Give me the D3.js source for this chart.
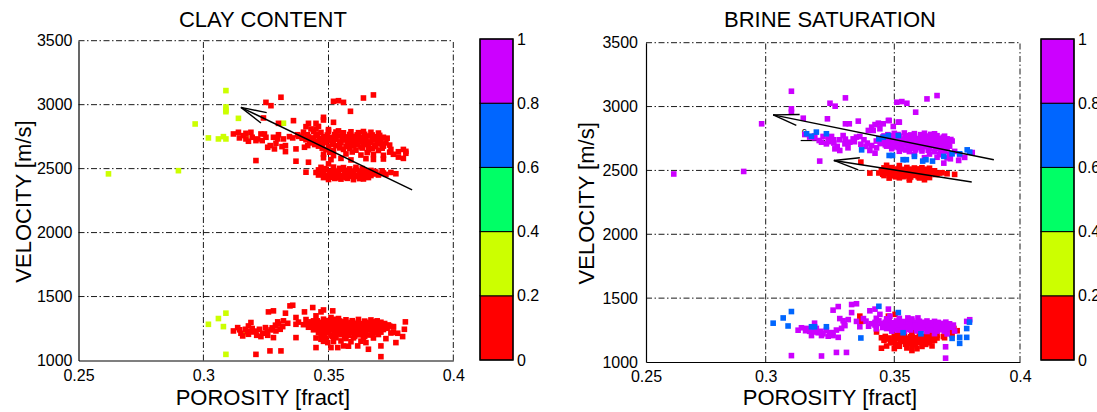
<!DOCTYPE html>
<html><head><meta charset="utf-8">
<script src="https://cdn.jsdelivr.net/npm/d3@7"></script>
<style>
body{margin:0;background:#fff;overflow:hidden}
text{font-family:"Liberation Sans",Arial,Helvetica,sans-serif;fill:#000}
</style>
</head><body>
<svg id="chart" width="1097" height="412"></svg>
<script>
// ---------------- DATA ----------------
const xTicks = [0.25, 0.3, 0.35, 0.4];
const yTicks = [1000, 1500, 2000, 2500, 3000, 3500];
const cbTicks = [0, 0.2, 0.4, 0.6, 0.8, 1];
const cbColors = ["#ff0000", "#ccff00", "#00ff66", "#0066ff", "#cc00ff"];
const titles = ["CLAY CONTENT", "BRINE SATURATION"];
const xLabel = "POROSITY [fract]";
const yLabel = "VELOCITY [m/s]";

// Left panel: [porosity, velocity, clay content]
const clayYellow = [
 [0.262,2459,0.3],[0.290,2484,0.3],[0.2967,2849,0.3],[0.309,3110,0.3],[0.309,2982,0.3],[0.309,2958,0.3],
 [0.309,2945,0.3],[0.314,2893,0.3],[0.302,2740,0.3],[0.306,2732,0.3],[0.308,2750,0.3],[0.309,2732,0.3],
 [0.332,2855,0.3],[0.317,2750,0.3],
 [0.302,1283,0.3],[0.306,1328,0.3],[0.309,1370,0.3],[0.308,1265,0.3],[0.309,1048,0.3],[0.317,1210,0.3]
];
const clayRedUpper = [
 [0.325,3018,0.1],[0.327,2992,0.1],[0.331,3058,0.1],[0.352,3026,0.1],[0.354,3031,0.1],[0.356,3018,0.1],
 [0.364,3052,0.1],[0.368,3076,0.1],[0.3588,2948,0.1],[0.324,2896,0.1],[0.336,2875,0.1],[0.330,2854,0.1],
 [0.348,2880,0.1],[0.348,2901,0.1],[0.352,2862,0.1],[0.341,2828,0.1],[0.342,2854,0.1],[0.345,2854,0.1],[0.345,2810,0.1],
 [0.312,2771,0.1],[0.314,2784,0.1],[0.316,2758,0.1],[0.317,2732,0.1],[0.319,2784,0.1],[0.3195,2745,0.1],
 [0.321,2719,0.1],[0.323,2771,0.1],[0.3235,2719,0.1],[0.325,2745,0.1],[0.3267,2680,0.1],[0.328,2745,0.1],
 [0.329,2698,0.1],[0.330,2765,0.1],[0.3314,2672,0.1],[0.332,2732,0.1],[0.3328,2680,0.1],[0.3328,2633,0.1],
 [0.3284,2654,0.1],[0.3257,2667,0.1],[0.3217,2732,0.1],[0.318,2714,0.1],[0.3144,2740,0.1],[0.317,2776,0.1],
 [0.3244,2771,0.1],[0.3297,2732,0.1],[0.3344,2750,0.1],[0.3357,2740,0.1],[0.3377,2765,0.1],[0.3394,2750,0.1],
 [0.337,2654,0.1],[0.337,2558,0.1],[0.321,2563,0.1],[0.3404,2667,0.1],[0.3417,2680,0.1],
 [0.340,2785,0.1],[0.344,2790,0.1],[0.347,2783,0.1],[0.350,2792,0.1],[0.353,2786,0.1],[0.356,2780,0.1],
 [0.359,2788,0.1],[0.362,2781,0.1],[0.364,2790,0.1],[0.367,2784,0.1],[0.370,2778,0.1],
 [0.343,2810,0.1],[0.346,2830,0.1],[0.350,2805,0.1],[0.354,2795,0.1],
 [0.338,2752,0.1],[0.342,2748,0.1],[0.345,2757,0.1],[0.348,2750,0.1],[0.351,2745,0.1],[0.354,2755,0.1],
 [0.357,2748,0.1],[0.360,2752,0.1],[0.363,2746,0.1],[0.366,2755,0.1],[0.369,2749,0.1],[0.372,2745,0.1],
 [0.341,2726,0.1],[0.344,2720,0.1],[0.347,2728,0.1],[0.350,2722,0.1],[0.353,2730,0.1],[0.356,2724,0.1],
 [0.359,2719,0.1],[0.362,2727,0.1],[0.365,2721,0.1],[0.368,2729,0.1],[0.371,2723,0.1],
 [0.343,2701,0.1],[0.346,2696,0.1],[0.349,2704,0.1],[0.352,2698,0.1],[0.355,2705,0.1],[0.358,2697,0.1],
 [0.361,2702,0.1],[0.364,2696,0.1],[0.367,2703,0.1],[0.370,2698,0.1],[0.373,2701,0.1],
 [0.346,2676,0.1],[0.350,2671,0.1],[0.353,2679,0.1],[0.357,2673,0.1],[0.360,2677,0.1],[0.363,2670,0.1],
 [0.366,2678,0.1],[0.369,2672,0.1],[0.372,2676,0.1],
 [0.349,2648,0.1],[0.352,2641,0.1],[0.356,2650,0.1],[0.361,2644,0.1],[0.366,2648,0.1],[0.370,2642,0.1],
 [0.375,2650,0.1],[0.380,2650,0.1],[0.381,2635,0.1],
 [0.348,2612,0.1],[0.352,2602,0.1],[0.357,2615,0.1],[0.363,2606,0.1],[0.368,2611,0.1],[0.372,2604,0.1],
 [0.376,2612,0.1],[0.381,2620,0.1],
 [0.348,2585,0.1],[0.351,2570,0.1],[0.355,2580,0.1],[0.359,2568,0.1],[0.365,2578,0.1],[0.368,2572,0.1],
 [0.372,2575,0.1],[0.378,2590,0.1],[0.380,2580,0.1],
 [0.350,2537,0.1],[0.341,2472,0.1],[0.342,2550,0.1],
 [0.347,2510,0.1],[0.352,2512,0.1],[0.356,2508,0.1],[0.361,2510,0.1],
 [0.346,2490,0.1],[0.349,2492,0.1],[0.352,2488,0.1],[0.355,2493,0.1],[0.358,2487,0.1],[0.361,2491,0.1],
 [0.364,2489,0.1],[0.367,2486,0.1],
 [0.345,2470,0.1],[0.348,2468,0.1],[0.351,2472,0.1],[0.354,2467,0.1],[0.357,2471,0.1],[0.360,2466,0.1],
 [0.363,2470,0.1],[0.366,2468,0.1],[0.369,2472,0.1],[0.372,2466,0.1],[0.375,2470,0.1],
 [0.346,2450,0.1],[0.349,2447,0.1],[0.352,2452,0.1],[0.355,2446,0.1],[0.358,2450,0.1],[0.361,2448,0.1],
 [0.364,2452,0.1],[0.367,2446,0.1],[0.370,2450,0.1],[0.373,2455,0.1],[0.377,2460,0.1],
 [0.348,2430,0.1],[0.351,2433,0.1],[0.354,2428,0.1],[0.357,2432,0.1],[0.360,2429,0.1],[0.363,2434,0.1],[0.366,2430,0.1],
 [0.350,2415,0.1],[0.355,2418,0.1],[0.360,2414,0.1],[0.364,2419,0.1]
];
const clayRedUpperFill = [
 [0.3415,2765,0.1],[0.3455,2768,0.1],[0.3495,2763,0.1],[0.3525,2766,0.1],[0.3555,2762,0.1],[0.3585,2767,0.1],
 [0.3615,2764,0.1],[0.3645,2768,0.1],[0.3675,2763,0.1],[0.3705,2760,0.1],
 [0.3395,2738,0.1],[0.3435,2740,0.1],[0.3465,2736,0.1],[0.3495,2739,0.1],[0.3525,2735,0.1],[0.3555,2740,0.1],
 [0.3585,2737,0.1],[0.3615,2741,0.1],[0.3645,2736,0.1],[0.3675,2739,0.1],[0.3705,2735,0.1],[0.3735,2738,0.1],
 [0.3425,2712,0.1],[0.3455,2714,0.1],[0.3485,2710,0.1],[0.3515,2713,0.1],[0.3545,2709,0.1],[0.3575,2714,0.1],
 [0.3605,2711,0.1],[0.3635,2713,0.1],[0.3665,2709,0.1],[0.3695,2712,0.1],
 [0.3445,2688,0.1],[0.3475,2686,0.1],[0.3515,2689,0.1],[0.3545,2685,0.1],[0.3585,2688,0.1],[0.3615,2686,0.1],
 [0.3655,2689,0.1],[0.3685,2685,0.1],[0.3715,2688,0.1],[0.3745,2684,0.1],
 [0.3475,2660,0.1],[0.3545,2662,0.1],[0.3585,2658,0.1],[0.3635,2661,0.1],[0.3675,2657,0.1],[0.3715,2660,0.1],
 [0.3505,2628,0.1],[0.3595,2630,0.1],[0.3655,2626,0.1],[0.3745,2629,0.1],[0.378,2632,0.1],
 [0.3485,2500,0.1],[0.3545,2502,0.1],[0.3585,2498,0.1],[0.3635,2500,0.1],
 [0.3475,2480,0.1],[0.3505,2479,0.1],[0.3535,2481,0.1],[0.3565,2478,0.1],[0.3595,2481,0.1],[0.3625,2479,0.1],
 [0.3655,2480,0.1],[0.3685,2478,0.1],[0.3715,2481,0.1],
 [0.3475,2460,0.1],[0.3505,2459,0.1],[0.3535,2461,0.1],[0.3565,2458,0.1],[0.3595,2461,0.1],[0.3625,2459,0.1],
 [0.3655,2460,0.1],[0.3685,2458,0.1],[0.3715,2461,0.1],
 [0.3495,2440,0.1],[0.3525,2441,0.1],[0.3555,2438,0.1],[0.3585,2441,0.1],[0.3615,2439,0.1],[0.3645,2440,0.1],
 [0.3525,2423,0.1],[0.3575,2424,0.1],[0.3625,2422,0.1]
];
const clayRedLower = [
 [0.312,1231,0.1],[0.3137,1257,0.1],[0.315,1213,0.1],[0.3168,1244,0.1],[0.318,1270,0.1],[0.319,1297,0.1],
 [0.3197,1223,0.1],[0.3213,1197,0.1],[0.3224,1244,0.1],[0.3237,1213,0.1],[0.3248,1257,0.1],[0.3257,1197,0.1],
 [0.327,1239,0.1],[0.328,1179,0.1],[0.3288,1276,0.1],[0.3297,1302,0.1],[0.3307,1244,0.1],[0.332,1310,0.1],
 [0.328,1388,0.1],[0.326,1380,0.1],[0.3328,1370,0.1],[0.3346,1427,0.1],[0.3357,1432,0.1],[0.337,1336,0.1],
 [0.337,1283,0.1],[0.337,1179,0.1],[0.321,1048,0.1],[0.3266,1075,0.1],[0.331,1075,0.1],[0.3157,1192,0.1],
 [0.318,1205,0.1],[0.323,1187,0.1],[0.329,1231,0.1],[0.3317,1265,0.1],[0.3337,1291,0.1],
 [0.3145,1240,0.1],[0.3175,1225,0.1],[0.321,1230,0.1],[0.3255,1225,0.1],[0.3275,1255,0.1],[0.330,1285,0.1],[0.3195,1250,0.1],
 [0.3404,1380,0.1],[0.3437,1414,0.1],[0.345,1349,0.1],[0.347,1380,0.1],[0.348,1395,0.1],[0.3517,1388,0.1],
 [0.351,1336,0.1],[0.348,1323,0.1],[0.354,1328,0.1],[0.344,1310,0.1],
 [0.341,1320,0.1],[0.352,1322,0.1],[0.357,1318,0.1],[0.362,1321,0.1],[0.367,1317,0.1],
 [0.338,1300,0.1],[0.343,1302,0.1],[0.347,1298,0.1],[0.350,1303,0.1],[0.353,1299,0.1],[0.356,1302,0.1],
 [0.359,1297,0.1],[0.362,1301,0.1],[0.365,1298,0.1],[0.368,1303,0.1],[0.371,1299,0.1],
 [0.340,1280,0.1],[0.344,1278,0.1],[0.347,1283,0.1],[0.350,1277,0.1],[0.353,1281,0.1],[0.356,1279,0.1],
 [0.359,1283,0.1],[0.362,1277,0.1],[0.365,1281,0.1],[0.368,1278,0.1],[0.371,1282,0.1],[0.374,1278,0.1],
 [0.342,1260,0.1],[0.346,1262,0.1],[0.349,1258,0.1],[0.352,1261,0.1],[0.355,1257,0.1],[0.358,1262,0.1],
 [0.361,1259,0.1],[0.364,1263,0.1],[0.367,1258,0.1],[0.370,1261,0.1],[0.373,1257,0.1],[0.376,1262,0.1],
 [0.344,1240,0.1],[0.348,1242,0.1],[0.351,1238,0.1],[0.354,1241,0.1],[0.357,1237,0.1],[0.360,1242,0.1],
 [0.363,1238,0.1],[0.366,1241,0.1],[0.369,1237,0.1],[0.372,1242,0.1],
 [0.346,1220,0.1],[0.350,1218,0.1],[0.353,1222,0.1],[0.356,1217,0.1],[0.359,1221,0.1],[0.362,1219,0.1],
 [0.365,1223,0.1],[0.368,1218,0.1],[0.371,1222,0.1],[0.376,1220,0.1],
 [0.347,1200,0.1],[0.351,1198,0.1],[0.355,1202,0.1],[0.358,1197,0.1],[0.362,1201,0.1],[0.366,1199,0.1],[0.370,1203,0.1],
 [0.345,1176,0.1],[0.349,1173,0.1],[0.353,1178,0.1],[0.357,1172,0.1],[0.360,1177,0.1],[0.364,1174,0.1],[0.368,1176,0.1],
 [0.348,1150,0.1],[0.352,1148,0.1],[0.355,1153,0.1],[0.359,1147,0.1],[0.363,1151,0.1],
 [0.345,1101,0.1],[0.347,1166,0.1],[0.3497,1140,0.1],[0.351,1101,0.1],[0.3537,1101,0.1],[0.356,1114,0.1],
 [0.358,1112,0.1],[0.3617,1114,0.1],[0.365,1140,0.1],[0.366,1088,0.1],[0.371,1114,0.1],[0.371,1030,0.1],
 [0.377,1140,0.1],[0.3797,1187,0.1],[0.3804,1244,0.1],[0.3808,1302,0.1],[0.3777,1213,0.1],[0.375,1215,0.1],
 [0.373,1171,0.1],[0.376,1265,0.1],
 [0.3455,1310,0.1],[0.3495,1312,0.1],[0.3545,1309,0.1],[0.3595,1311,0.1],[0.3645,1308,0.1],[0.3695,1310,0.1],
 [0.3415,1290,0.1],[0.3455,1291,0.1],[0.3485,1288,0.1],[0.3515,1290,0.1],[0.3545,1292,0.1],[0.3575,1289,0.1],
 [0.3605,1291,0.1],[0.3635,1288,0.1],[0.3665,1290,0.1],[0.3695,1292,0.1],[0.3725,1289,0.1],
 [0.3435,1270,0.1],[0.3475,1271,0.1],[0.3505,1268,0.1],[0.3535,1270,0.1],[0.3565,1272,0.1],[0.3595,1269,0.1],
 [0.3625,1271,0.1],[0.3655,1268,0.1],[0.3685,1270,0.1],[0.3715,1272,0.1],[0.3745,1269,0.1],
 [0.3455,1250,0.1],[0.3495,1251,0.1],[0.3525,1248,0.1],[0.3555,1250,0.1],[0.3585,1252,0.1],[0.3615,1249,0.1],
 [0.3645,1251,0.1],[0.3675,1248,0.1],[0.3705,1250,0.1],[0.3735,1252,0.1],
 [0.3475,1230,0.1],[0.3525,1231,0.1],[0.3555,1228,0.1],[0.3585,1230,0.1],[0.3615,1232,0.1],[0.3645,1229,0.1],
 [0.3675,1231,0.1],[0.3705,1228,0.1],
 [0.3485,1210,0.1],[0.3535,1211,0.1],[0.3565,1208,0.1],[0.3605,1210,0.1],[0.3635,1212,0.1],[0.3675,1209,0.1],
 [0.3475,1188,0.1],[0.3515,1189,0.1],[0.3565,1186,0.1],[0.3605,1188,0.1],[0.3645,1190,0.1]
];

// Right panel: [porosity, velocity, brine saturation]
const satRed = [
 [0.337,2565,0.1],[0.3405,2479,0.1],[0.347,2540,0.1],[0.352,2538,0.1],
 [0.346,2520,0.1],[0.349,2522,0.1],[0.352,2518,0.1],[0.355,2523,0.1],[0.358,2519,0.1],[0.361,2521,0.1],[0.364,2517,0.1],
 [0.345,2500,0.1],[0.348,2498,0.1],[0.351,2502,0.1],[0.354,2497,0.1],[0.357,2501,0.1],[0.360,2499,0.1],[0.363,2503,0.1],[0.366,2497,0.1],
 [0.344,2480,0.1],[0.347,2478,0.1],[0.350,2482,0.1],[0.353,2477,0.1],[0.356,2481,0.1],[0.359,2479,0.1],[0.362,2483,0.1],[0.365,2478,0.1],[0.368,2480,0.1],
 [0.346,2460,0.1],[0.349,2458,0.1],[0.352,2462,0.1],[0.355,2457,0.1],[0.358,2461,0.1],[0.361,2459,0.1],[0.364,2462,0.1],
 [0.348,2440,0.1],[0.352,2442,0.1],[0.356,2438,0.1],[0.360,2441,0.1],[0.364,2444,0.1],
 [0.356,2425,0.1],[0.362,2427,0.1],[0.367,2474,0.1],[0.371,2474,0.1],[0.374,2469,0.1],[0.369,2482,0.1],
 [0.3475,2510,0.1],[0.3505,2511,0.1],[0.3535,2508,0.1],[0.3565,2510,0.1],[0.3595,2512,0.1],[0.3625,2509,0.1],
 [0.3465,2490,0.1],[0.3495,2491,0.1],[0.3525,2488,0.1],[0.3555,2490,0.1],[0.3585,2492,0.1],[0.3615,2489,0.1],[0.3645,2490,0.1],
 [0.3455,2470,0.1],[0.3485,2471,0.1],[0.3515,2468,0.1],[0.3545,2470,0.1],[0.3575,2472,0.1],[0.3605,2469,0.1],[0.3635,2471,0.1],[0.3665,2468,0.1],
 [0.3505,2450,0.1],[0.3535,2451,0.1],[0.3565,2448,0.1],[0.3595,2450,0.1],[0.3625,2452,0.1],
 [0.3366,1359,0.1],[0.3373,1318,0.1],[0.3477,1359,0.1],[0.3477,1332,0.1],[0.3503,1373,0.1],[0.3431,1235,0.1],
 [0.352,1230,0.1],[0.357,1232,0.1],[0.364,1228,0.1],[0.370,1231,0.1],[0.375,1245,0.1],
 [0.350,1210,0.1],[0.354,1208,0.1],[0.357,1212,0.1],[0.360,1207,0.1],[0.363,1211,0.1],[0.367,1209,0.1],[0.373,1212,0.1],
 [0.345,1190,0.1],[0.348,1188,0.1],[0.352,1192,0.1],[0.355,1187,0.1],[0.358,1191,0.1],[0.361,1189,0.1],[0.364,1193,0.1],[0.367,1188,0.1],[0.370,1190,0.1],
 [0.346,1170,0.1],[0.350,1168,0.1],[0.354,1172,0.1],[0.358,1167,0.1],[0.362,1171,0.1],[0.366,1169,0.1],
 [0.349,1150,0.1],[0.356,1148,0.1],[0.360,1152,0.1],[0.364,1150,0.1],
 [0.347,1125,0.1],[0.352,1123,0.1],[0.357,1127,0.1],[0.361,1122,0.1],[0.365,1126,0.1],
 [0.345,1108,0.1],[0.350,1105,0.1],[0.355,1110,0.1],[0.359,1104,0.1],[0.357,1090,0.1],
 [0.3737,1263,0.1],[0.372,1250,0.1],
 [0.3465,1200,0.1],[0.3535,1201,0.1],[0.3565,1198,0.1],[0.3625,1200,0.1],[0.3655,1202,0.1],[0.3695,1199,0.1],
 [0.3475,1180,0.1],[0.3505,1181,0.1],[0.3535,1178,0.1],[0.3565,1180,0.1],[0.3595,1182,0.1],[0.3625,1179,0.1],[0.3655,1180,0.1],
 [0.3485,1160,0.1],[0.3525,1161,0.1],[0.3565,1158,0.1],[0.3605,1160,0.1],[0.3635,1162,0.1],
 [0.3505,1138,0.1],[0.3545,1139,0.1],[0.3585,1136,0.1],[0.3625,1138,0.1]
];
const satMagenta = [
 [0.2616,2472,0.9],[0.2908,2492,0.9],[0.2983,2865,0.9],[0.310,3120,0.9],[0.310,2982,0.9],[0.310,2956,0.9],
 [0.3146,2909,0.9],[0.325,3026,0.9],[0.327,3003,0.9],[0.331,3068,0.9],[0.351,3034,0.9],[0.353,3039,0.9],
 [0.355,3026,0.9],[0.363,3060,0.9],[0.367,3086,0.9],[0.3585,2956,0.9],[0.324,2904,0.9],[0.336,2886,0.9],
 [0.331,2865,0.9],[0.3325,2865,0.9],[0.348,2891,0.9],[0.352,2878,0.9],[0.321,2573,0.9],
 [0.3152,2781,0.9],[0.3171,2761,0.9],[0.319,2755,0.9],[0.3208,2734,0.9],[0.3223,2766,0.9],[0.3243,2747,0.9],
 [0.3256,2766,0.9],[0.3265,2714,0.9],[0.3278,2688,0.9],[0.3288,2740,0.9],[0.3301,2773,0.9],[0.3308,2708,0.9],
 [0.3288,2656,0.9],[0.3269,2669,0.9],[0.3327,2721,0.9],[0.334,2747,0.9],[0.3353,2761,0.9],[0.3366,2766,0.9],
 [0.3382,2740,0.9],[0.3395,2714,0.9],[0.3412,2695,0.9],[0.3431,2677,0.9],[0.3425,2635,0.9],[0.3405,2656,0.9],
 [0.3390,2688,0.9],[0.3236,2708,0.9],[0.3217,2721,0.9],[0.332,2677,0.9],
 [0.3265,2740,0.9],[0.331,2745,0.9],[0.3345,2725,0.9],[0.337,2705,0.9],[0.3245,2725,0.9],[0.319,2770,0.9],
 [0.3412,2839,0.9],[0.3425,2859,0.9],[0.3438,2870,0.9],[0.3457,2865,0.9],[0.3418,2813,0.9],[0.3399,2813,0.9],
 [0.3477,2891,0.9],[0.3516,2878,0.9],[0.3496,2844,0.9],[0.3444,2826,0.9],
 [0.350,2790,0.9],[0.354,2793,0.9],[0.358,2788,0.9],[0.362,2791,0.9],[0.366,2787,0.9],
 [0.346,2770,0.9],[0.349,2772,0.9],[0.352,2768,0.9],[0.355,2771,0.9],[0.358,2767,0.9],[0.361,2773,0.9],[0.364,2769,0.9],[0.367,2772,0.9],[0.370,2768,0.9],
 [0.344,2750,0.9],[0.347,2748,0.9],[0.350,2752,0.9],[0.353,2747,0.9],[0.356,2751,0.9],[0.359,2749,0.9],[0.362,2753,0.9],[0.365,2748,0.9],[0.368,2751,0.9],[0.371,2747,0.9],
 [0.343,2730,0.9],[0.346,2728,0.9],[0.349,2732,0.9],[0.352,2727,0.9],[0.355,2731,0.9],[0.358,2729,0.9],[0.361,2733,0.9],[0.364,2728,0.9],[0.367,2731,0.9],[0.370,2727,0.9],[0.373,2730,0.9],
 [0.345,2710,0.9],[0.348,2708,0.9],[0.351,2712,0.9],[0.354,2707,0.9],[0.357,2711,0.9],[0.360,2709,0.9],[0.363,2713,0.9],[0.366,2708,0.9],[0.369,2711,0.9],
 [0.347,2690,0.9],[0.350,2688,0.9],[0.353,2692,0.9],[0.356,2687,0.9],[0.359,2691,0.9],[0.362,2689,0.9],[0.365,2693,0.9],[0.368,2688,0.9],[0.372,2690,0.9],
 [0.349,2670,0.9],[0.353,2668,0.9],[0.357,2672,0.9],[0.361,2667,0.9],[0.364,2671,0.9],[0.367,2669,0.9],[0.371,2672,0.9],
 [0.352,2650,0.9],[0.356,2648,0.9],[0.361,2652,0.9],[0.366,2647,0.9],[0.370,2651,0.9],[0.374,2649,0.9],
 [0.358,2625,0.9],[0.364,2628,0.9],[0.368,2623,0.9],[0.372,2627,0.9],[0.376,2622,0.9],[0.381,2640,0.9],
 [0.362,2600,0.9],[0.367,2603,0.9],[0.371,2598,0.9],[0.378,2602,0.9],
 [0.3697,2557,0.9],[0.3723,2591,0.9],[0.3756,2578,0.9],
 [0.3475,2780,0.9],[0.3515,2781,0.9],[0.3565,2778,0.9],[0.3605,2780,0.9],[0.3645,2782,0.9],
 [0.3455,2760,0.9],[0.3485,2761,0.9],[0.3515,2758,0.9],[0.3545,2760,0.9],[0.3575,2762,0.9],[0.3605,2759,0.9],[0.3635,2761,0.9],[0.3665,2758,0.9],[0.3695,2760,0.9],
 [0.3455,2740,0.9],[0.3485,2741,0.9],[0.3515,2738,0.9],[0.3545,2740,0.9],[0.3575,2742,0.9],[0.3605,2739,0.9],[0.3635,2741,0.9],[0.3665,2738,0.9],[0.3695,2740,0.9],[0.3725,2742,0.9],
 [0.3445,2720,0.9],[0.3475,2721,0.9],[0.3505,2718,0.9],[0.3535,2720,0.9],[0.3565,2722,0.9],[0.3595,2719,0.9],[0.3625,2721,0.9],[0.3655,2718,0.9],[0.3685,2720,0.9],[0.3715,2722,0.9],
 [0.3465,2700,0.9],[0.3495,2701,0.9],[0.3525,2698,0.9],[0.3555,2700,0.9],[0.3585,2702,0.9],[0.3615,2699,0.9],[0.3645,2701,0.9],[0.3675,2698,0.9],[0.3705,2700,0.9],
 [0.3515,2680,0.9],[0.3555,2681,0.9],[0.3595,2678,0.9],[0.3635,2680,0.9],[0.3665,2682,0.9],[0.3695,2679,0.9],
 [0.3545,2660,0.9],[0.3585,2661,0.9],[0.3635,2658,0.9],[0.3685,2660,0.9],
 [0.310,1050,0.9],[0.3217,1047,0.9],[0.3275,1075,0.9],[0.3314,1075,0.9],[0.3704,1119,0.9],[0.3704,1030,0.9],
 [0.3126,1249,0.9],[0.3139,1268,0.9],[0.3159,1263,0.9],[0.3171,1240,0.9],[0.319,1304,0.9],[0.3197,1263,0.9],
 [0.3204,1229,0.9],[0.3223,1221,0.9],[0.3236,1249,0.9],[0.3249,1229,0.9],[0.3262,1207,0.9],[0.3282,1193,0.9],
 [0.3295,1263,0.9],[0.3308,1285,0.9],[0.3321,1332,0.9],[0.3334,1387,0.9],[0.3262,1406,0.9],[0.3282,1434,0.9],
 [0.3334,1450,0.9],[0.3353,1456,0.9],[0.3301,1323,0.9],[0.3288,1340,0.9],[0.3366,1276,0.9],[0.3353,1318,0.9],
 [0.3178,1207,0.9],[0.3217,1207,0.9],[0.3243,1202,0.9],
 [0.3155,1245,0.9],[0.3185,1235,0.9],[0.3215,1240,0.9],[0.326,1230,0.9],[0.3275,1250,0.9],[0.3305,1300,0.9],
 [0.3405,1401,0.9],[0.3425,1414,0.9],[0.3444,1373,0.9],[0.3477,1414,0.9],[0.3483,1359,0.9],[0.3554,1345,0.9],[0.3594,1345,0.9],
 [0.338,1340,0.9],[0.343,1342,0.9],[0.347,1338,0.9],[0.352,1341,0.9],[0.357,1337,0.9],
 [0.339,1320,0.9],[0.344,1322,0.9],[0.348,1318,0.9],[0.351,1321,0.9],[0.354,1317,0.9],[0.357,1322,0.9],[0.360,1319,0.9],[0.363,1321,0.9],[0.366,1318,0.9],
 [0.341,1300,0.9],[0.345,1302,0.9],[0.348,1298,0.9],[0.351,1301,0.9],[0.354,1297,0.9],[0.357,1302,0.9],[0.360,1299,0.9],[0.363,1301,0.9],[0.366,1298,0.9],[0.369,1302,0.9],[0.372,1299,0.9],
 [0.340,1280,0.9],[0.343,1282,0.9],[0.346,1278,0.9],[0.349,1281,0.9],[0.352,1277,0.9],[0.355,1282,0.9],[0.358,1279,0.9],[0.361,1281,0.9],[0.364,1278,0.9],[0.367,1282,0.9],[0.370,1279,0.9],[0.373,1281,0.9],
 [0.343,1260,0.9],[0.347,1262,0.9],[0.350,1258,0.9],[0.353,1261,0.9],[0.356,1257,0.9],[0.359,1262,0.9],[0.362,1259,0.9],[0.365,1261,0.9],[0.368,1258,0.9],[0.371,1262,0.9],
 [0.349,1242,0.9],[0.354,1240,0.9],[0.359,1243,0.9],[0.363,1239,0.9],[0.367,1242,0.9],[0.370,1240,0.9],[0.374,1243,0.9],
 [0.366,1222,0.9],[0.371,1220,0.9],[0.3788,1318,0.9],[0.380,1331,0.9],
 [0.3425,1310,0.9],[0.3465,1311,0.9],[0.3495,1308,0.9],[0.3525,1310,0.9],[0.3555,1312,0.9],[0.3585,1309,0.9],[0.3615,1311,0.9],[0.3645,1308,0.9],[0.3675,1310,0.9],[0.3705,1312,0.9],
 [0.3425,1290,0.9],[0.3465,1291,0.9],[0.3495,1288,0.9],[0.3525,1290,0.9],[0.3555,1292,0.9],[0.3585,1289,0.9],[0.3615,1291,0.9],[0.3645,1288,0.9],[0.3675,1290,0.9],[0.3705,1292,0.9],[0.3735,1289,0.9],
 [0.3455,1270,0.9],[0.3485,1271,0.9],[0.3515,1268,0.9],[0.3545,1270,0.9],[0.3575,1272,0.9],[0.3605,1269,0.9],[0.3635,1271,0.9],[0.3665,1268,0.9],[0.3695,1270,0.9],[0.3725,1272,0.9],
 [0.3515,1250,0.9],[0.3565,1251,0.9],[0.3605,1248,0.9],[0.3645,1250,0.9],[0.3685,1252,0.9]
];
const satBlue = [
 [0.3159,2787,0.7],[0.3178,2768,0.7],[0.3197,2800,0.7],[0.3236,2787,0.7],[0.3373,2661,0.7],[0.344,2747,0.7],
 [0.3457,2760,0.7],[0.3477,2773,0.7],[0.3516,2773,0.7],[0.348,2617,0.7],[0.3493,2617,0.7],[0.3535,2584,0.7],
 [0.3548,2584,0.7],[0.358,2610,0.7],[0.3613,2573,0.7],[0.3626,2584,0.7],[0.3652,2573,0.7],[0.3697,2610,0.7],
 [0.373,2630,0.7],[0.376,2630,0.7],[0.379,2661,0.7],[0.380,2643,0.7],
 [0.3029,1304,0.7],[0.3068,1345,0.7],[0.3087,1282,0.7],[0.310,1395,0.7],[0.3178,1276,0.7],[0.319,1276,0.7],
 [0.3236,1276,0.7],[0.337,1188,0.7],[0.344,1436,0.7],[0.3516,1387,0.7],[0.3535,1229,0.7],[0.3606,1221,0.7],
 [0.373,1185,0.7],[0.376,1193,0.7],[0.3788,1262,0.7],[0.3788,1193,0.7],[0.3799,1312,0.7],[0.376,1146,0.7]
];

// Arrow annotations: [tail, tip, barb1, barb2]
const clayArrows = [ [[0.3835,2334],[0.315,2979],[0.3253,2938],[0.323,2857]] ];
const satArrows = [
 [[0.3896,2584],[0.3029,2935],[0.3132,2938],[0.3119,2852]],
 [[0.3808,2409],[0.3265,2578],[0.3366,2599],[0.336,2505]]
];
const satGuide = [[0.3136,2734],[0.323,2734]];

// ---------------- DRAW ----------------
const svg = d3.select("#chart");
const color = d3.scaleQuantize().domain([0,1]).range(cbColors);
const M = 5.6; // marker size

const panels = [
 { title: titles[0], xr:[78.5,203.4,328.5,453.3], yr:[360.5,40.7], cbx:480, yLabX:31, tickPadY:6,
   groups:[clayYellow, clayRedUpper, clayRedUpperFill, clayRedLower], arrows: clayArrows, guide:null },
 { title: titles[1], xr:[646,765.7,894.3,1020], yr:[362,42.7], cbx:1041, yLabX:594, tickPadY:8,
   groups:[satRed, satMagenta, satBlue], arrows: satArrows, guide: satGuide }
];

panels.forEach(p => {
  const x = d3.scaleLinear().domain(xTicks).range(p.xr);
  const y = d3.scaleLinear().domain([1000,3500]).range(p.yr);
  const g = svg.append("g");
  const x0 = p.xr[0], x1 = p.xr[3];

  // grid
  g.selectAll(".gx").data(xTicks.slice(1)).join("line")
    .attr("x1", d=>x(d)).attr("x2", d=>x(d)).attr("y1", y(1000)).attr("y2", y(3500))
    .attr("stroke","#000").attr("stroke-width",0.9).attr("stroke-dasharray","6,2.5,1.5,2.5");
  g.selectAll(".gy").data(yTicks.slice(1)).join("line")
    .attr("x1", x0).attr("x2", x1).attr("y1", d=>y(d)).attr("y2", d=>y(d))
    .attr("stroke","#000").attr("stroke-width",0.9).attr("stroke-dasharray","6,2.5,1.5,2.5");

  // guide line (under points)
  if (p.guide) {
    g.append("line").attr("x1", x(p.guide[0][0])).attr("y1", y(p.guide[0][1]))
      .attr("x2", x(p.guide[1][0])).attr("y2", y(p.guide[1][1]))
      .attr("stroke","#000").attr("stroke-width",1.2);
    g.append("text").attr("x", x(p.guide[0][0])+1).attr("y", y(p.guide[0][1])-6)
      .attr("font-size",10).text("c");
  }

  // points
  p.groups.forEach(grp => {
    g.append("g").selectAll("rect").data(grp).join("rect")
      .attr("x", d=>x(d[0])-M/2).attr("y", d=>y(d[1])-M/2)
      .attr("width",M).attr("height",M).attr("fill", d=>color(d[2]));
  });

  // arrows
  p.arrows.forEach(a => {
    const ag = g.append("g").attr("stroke","#000").attr("stroke-width",1.4).attr("fill","none");
    ag.append("line").attr("x1",x(a[0][0])).attr("y1",y(a[0][1])).attr("x2",x(a[1][0])).attr("y2",y(a[1][1]));
    ag.append("line").attr("x1",x(a[1][0])).attr("y1",y(a[1][1])).attr("x2",x(a[2][0])).attr("y2",y(a[2][1]));
    ag.append("line").attr("x1",x(a[1][0])).attr("y1",y(a[1][1])).attr("x2",x(a[3][0])).attr("y2",y(a[3][1]));
  });

  // axes
  const ax = g.append("g").attr("transform",`translate(0,${y(1000)})`)
    .call(d3.axisBottom(x).tickValues(xTicks).tickSize(0).tickSizeOuter(0).tickPadding(9).tickFormat(d=>String(d)));
  const ay = g.append("g").attr("transform",`translate(${x0},0)`)
    .call(d3.axisLeft(y).tickValues(yTicks).tickSize(0).tickSizeOuter(0).tickPadding(p.tickPadY).tickFormat(d=>String(d)));
  [ax, ay].forEach(a => {
    a.select(".domain").attr("stroke","#000").attr("stroke-width",1.2);
    a.selectAll("text").attr("font-size",16).attr("font-family",'"Liberation Sans",Arial,sans-serif').attr("fill","#000");
  });

  // titles and labels
  const cx = (x0 + x1)/2 - 3;
  g.append("text").attr("x",cx).attr("y",26.5).attr("text-anchor","middle").attr("font-size",22).text(p.title);
  g.append("text").attr("x",cx).attr("y",405).attr("text-anchor","middle").attr("font-size",22).text(xLabel);
  g.append("text").attr("transform",`translate(${p.yLabX},${(p.yr[0]+p.yr[1])/2+1}) rotate(-90)`)
    .attr("text-anchor","middle").attr("font-size",22).text(yLabel);

  // colorbar
  const cb = d3.scaleLinear().domain([0,1]).range([360,39]);
  const cbw = 33;
  const bands = cbColors.map((c,i)=>[cbTicks[i], cbTicks[i+1], c]);
  g.selectAll(".band").data(bands).join("rect")
    .attr("x", p.cbx).attr("y", d=>cb(d[1])).attr("width", cbw).attr("height", d=>cb(d[0])-cb(d[1]))
    .attr("fill", d=>d[2]).attr("stroke","#000").attr("stroke-width",1);
  g.append("rect").attr("x",p.cbx).attr("y",cb(1)).attr("width",cbw).attr("height",cb(0)-cb(1))
    .attr("fill","none").attr("stroke","#000").attr("stroke-width",1.3);
  g.selectAll(".cbl").data(cbTicks).join("text")
    .attr("x", p.cbx + cbw + 4).attr("y", d=>cb(d)+5.5).attr("font-size",16).text(d=>String(d));
});
</script>
</body></html>
